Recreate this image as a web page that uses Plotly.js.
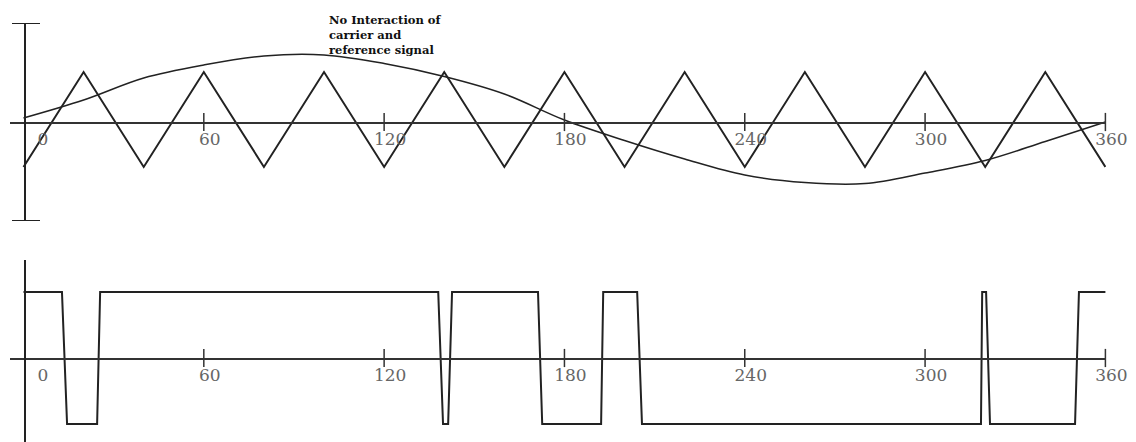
<!DOCTYPE html>
<html><head><meta charset="utf-8">
<script src="https://cdn.plot.ly/plotly-3.0.1.min.js"></script>
<style>html,body{margin:0;padding:0;background:#fff}#chart{width:1136px;height:442px}</style>
</head><body><div id="chart"></div>
<script>
// Carrier (triangle) signal, degrees and value
const carrierDeg = [0,20,40,60,80,100,120,140,160,180,200,220,240,260,280,300,320,340,360];
const carrierVal = [-0.9,1,-0.9,1,-0.9,1,-0.9,1,-0.9,1,-0.9,1,-0.9,1,-0.9,1,-0.9,1,-0.9];
// Reference (sine-like) signal
const refDeg = [0,20,40,60,80,100,120,140,160,180,200,220,240,260,280,300,320,340,360];
const refVal = [0.08,0.44,0.88,1.14,1.32,1.34,1.17,0.91,0.56,0.04,-0.37,-0.74,-1.06,-1.21,-1.23,-1.02,-0.77,-0.39,0];
// PWM output
const pwmDeg = [0,12.8,14.5,24.5,25.5,138,139.6,141.3,142.6,171.2,172.6,192.2,192.9,204.2,205.8,318.6,319,320.3,321.6,349.9,351.2,360];
const pwmVal = [1,1,-1,-1,1,1,-1,-1,1,1,-1,-1,1,1,-1,-1,1,1,-1,-1,1,1];
// Axis ticks
const tickVals = [0,60,120,180,240,300,360];
const tickLabels = ['\u00a0\u00a0\u00a0\u00a0\u00a00','60','120','180','240','300','360'];
const markTicks = [60,120,180,240,300,360];
const noteText = '<b>No Interaction of</b><br><b>carrier and</b><br><b>reference signal</b>';

const W = 1136, H = 442;
const ink = '#222';
const xRange = [-4.49, 360.2];
const xDom = [10/W, 1106/W];
const tickFont = {family: 'DejaVu Serif', size: 17, color: '#666'};

function xax(pos){
  return {domain: xDom, range: xRange, anchor: 'free', position: pos,
    showline: true, linecolor: '#333', linewidth: 1.5, showgrid: false, zeroline: false,
    tickmode: 'array', tickvals: tickVals, ticktext: tickLabels, ticks: '',
    tickfont: tickFont, ticklabelshift: 6, ticklabelstandoff: 1, fixedrange: true};
}
function yax(dom, rng){
  return {domain: dom, range: rng, anchor: 'free', position: 25/W,
    showline: true, linecolor: ink, linewidth: 2, showgrid: false, zeroline: false,
    showticklabels: false, ticks: '', fixedrange: true};
}

const zeros = markTicks.map(() => 0);
const data = [
  {x: refDeg, y: refVal, xaxis: 'x', yaxis: 'y', mode: 'lines', line: {color: ink, width: 1.5, shape: 'spline', smoothing: 1}, hoverinfo: 'skip'},
  {x: carrierDeg, y: carrierVal, xaxis: 'x', yaxis: 'y', mode: 'lines', line: {color: ink, width: 2}, hoverinfo: 'skip'},
  {x: markTicks, y: zeros, xaxis: 'x', yaxis: 'y', mode: 'markers', cliponaxis: false,
   marker: {symbol: 'line-ns', size: 13, color: '#333', line: {color: '#333', width: 1.5}}, hoverinfo: 'skip'},
  {x: pwmDeg, y: pwmVal, xaxis: 'x2', yaxis: 'y2', mode: 'lines', line: {color: ink, width: 2}, hoverinfo: 'skip'},
  {x: markTicks, y: zeros, xaxis: 'x2', yaxis: 'y2', mode: 'markers', cliponaxis: false,
   marker: {symbol: 'line-ns', size: 13, color: '#333', line: {color: '#333', width: 1.5}}, hoverinfo: 'skip'}
];

const layout = {
  width: W, height: H, margin: {l: 0, r: 0, t: 0, b: 0},
  paper_bgcolor: '#fff', plot_bgcolor: 'rgba(0,0,0,0)', showlegend: false,
  xaxis: xax(1 - 122/H),
  yaxis: yax([1 - 221/H, 1 - 23/H], [-1.98, 1.98]),
  xaxis2: xax(1 - 358/H),
  yaxis2: yax([0, 1 - 260/H], [-84/66, 98/66]),
  shapes: [
    {type: 'line', xref: 'paper', yref: 'y', x0: 12/W, x1: 40/W, y0: 1.98, y1: 1.98, line: {color: ink, width: 2}},
    {type: 'line', xref: 'paper', yref: 'y', x0: 12/W, x1: 40/W, y0: -1.98, y1: -1.98, line: {color: ink, width: 2}}
  ],
  annotations: [
    {text: noteText, xref: 'paper', yref: 'paper', x: 327/W, y: 1 - 11/H, xanchor: 'left', yanchor: 'top',
     align: 'left', showarrow: false, font: {family: 'DejaVu Serif', size: 11.5, color: '#111'}}
  ]
};

Plotly.newPlot('chart', data, layout, {staticPlot: true, displayModeBar: false});
</script>
</body></html>
